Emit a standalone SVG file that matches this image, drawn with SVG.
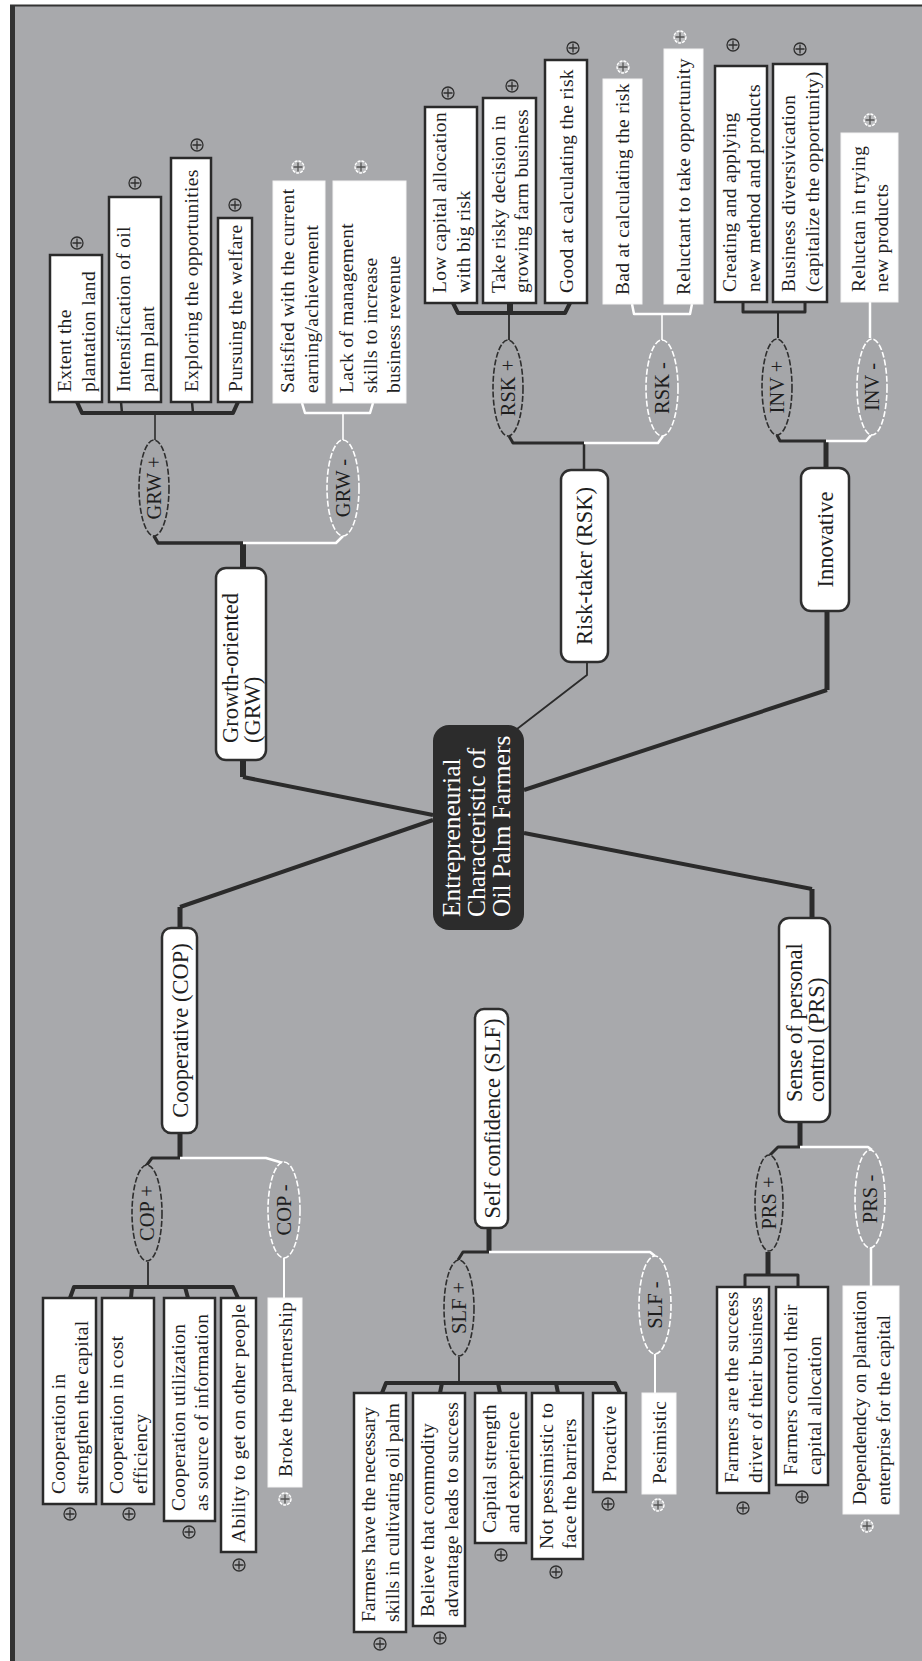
<svg xmlns="http://www.w3.org/2000/svg" xmlns:xlink="http://www.w3.org/1999/xlink" width="922" height="1661" viewBox="0 0 922 1661">
<style>
text{font-family:"Liberation Serif","Times New Roman",serif;fill:#1e1e1e}
.lf{font-size:19.5px;letter-spacing:0.3px}
.tight{letter-spacing:0}
.nd{font-size:22.5px}
.el{font-size:20.5px;text-anchor:middle}
.mid{text-anchor:middle}
.ctr{font-size:25.5px;fill:#ffffff}
.bd{fill:#ffffff;stroke:#2a2a2a;stroke-width:2.5}
.bw{fill:#ffffff;stroke:#f4f4f4;stroke-width:1}
.node{fill:#ffffff;stroke:#2e2e2e;stroke-width:2.5}
.ed{fill:#a5a6a9;stroke:#2e2e2e;stroke-width:1.6;stroke-dasharray:6 2}
.ew{fill:#a5a6a9;stroke:#ffffff;stroke-width:1.6;stroke-dasharray:6 2}
.k{fill:none;stroke:#2b2b2b;stroke-linejoin:round}
.w{fill:none;stroke:#ffffff;stroke-linejoin:round}
</style>
<defs>
<g id="pd"><circle r="6" fill="none" stroke="#2f2f2f" stroke-width="1.3"/><path d="M-4.5,0H4.5M0,-4.5V4.5" stroke="#2f2f2f" stroke-width="1.3"/></g>
<g id="pw"><circle r="6" fill="#bdbec0" stroke="#ffffff" stroke-width="1.4" stroke-dasharray="3 1"/><path d="M-4.5,0H4.5M0,-4.5V4.5" stroke="#555555" stroke-width="1.3"/></g>
</defs>
<rect x="0" y="0" width="922" height="1661" fill="#ffffff"/>
<rect x="12" y="5" width="910" height="1656" fill="#a8a9ac"/>
<path d="M12.5,5V1661" stroke="#333333" stroke-width="5" fill="none"/>
<path d="M10,5.5H922" stroke="#333333" stroke-width="2" fill="none"/>

<g id="connectors">
<!-- GRW -->
<path class="k" stroke-width="6" d="M243,760V777M243,568V543"/>
<path class="k" stroke-width="4" d="M243,777L433,815"/>
<path class="k" stroke-width="3.5" d="M243,543H158L154,536"/>
<path class="w" stroke-width="2.5" d="M243,543H336L343,536"/>
<path class="k" stroke-width="1.6" d="M155,440V413"/>
<path class="k" stroke-width="4" d="M77,402L82,413H233L238,402"/>
<path class="k" stroke-width="2.5" d="M122,413L121,402M193,413L192,402"/>
<path class="w" stroke-width="1.6" d="M343,440V413"/>
<path class="w" stroke-width="2.5" d="M302,403L305,413H370L373,403"/>
<!-- RSK -->
<path class="k" stroke-width="1.8" d="M517,729L587,675V662"/>
<path class="k" stroke-width="2.5" d="M584,470V443"/>
<path class="k" stroke-width="3" d="M584,443H513L509,436"/>
<path class="w" stroke-width="2.5" d="M584,443H658L663,436"/>
<path class="k" stroke-width="1.8" d="M509,340V313"/>
<path class="k" stroke-width="4" d="M453,303L458,313H565L570,303"/>
<path class="k" stroke-width="6" d="M510,313V303"/>
<path class="w" stroke-width="1.6" d="M662,340V314"/>
<path class="w" stroke-width="2.5" d="M632,304L634,314H690L692,304"/>
<!-- INV -->
<path class="k" stroke-width="4" d="M524,790L827,690"/>
<path class="k" stroke-width="5" d="M827,690V611M826,468V441"/>
<path class="k" stroke-width="3" d="M826,441H780L777,435"/>
<path class="w" stroke-width="2.5" d="M826,441H866L871,435"/>
<path class="k" stroke-width="2" d="M778,338V312"/>
<path class="k" stroke-width="3" d="M743,302V312H805V302"/>
<path class="w" stroke-width="2.5" d="M870,338V302"/>
<!-- COP -->
<path class="k" stroke-width="4" d="M433,820L180,907"/>
<path class="k" stroke-width="5" d="M180,907V928M180,1133V1158"/>
<path class="k" stroke-width="3" d="M180,1158H152L146,1166"/>
<path class="w" stroke-width="2.5" d="M180,1158H266L283,1163"/>
<path class="k" stroke-width="1.8" d="M148,1262V1287"/>
<path class="k" stroke-width="4" d="M70,1298L74,1287H233L238,1298M132,1287L131,1298M185,1287L188,1298"/>
<path class="w" stroke-width="2" d="M284,1258V1298"/>
<!-- SLF -->
<path class="k" stroke-width="5" d="M489,1228V1252"/>
<path class="k" stroke-width="3" d="M489,1252H463L458,1260"/>
<path class="w" stroke-width="2.5" d="M489,1252H650L655,1256"/>
<path class="k" stroke-width="1.8" d="M459,1357V1383"/>
<path class="k" stroke-width="4" d="M382,1393L386,1383H615L620,1393M442,1383L440,1393M498,1383L500,1393M556,1383L558,1393"/>
<path class="w" stroke-width="2" d="M655,1354V1393"/>
<!-- PRS -->
<path class="k" stroke-width="4" d="M524,833L812,889"/>
<path class="k" stroke-width="5" d="M812,889V918M800,1122V1147M768,1252V1275"/>
<path class="k" stroke-width="3" d="M800,1147H778L770,1155"/>
<path class="w" stroke-width="2.5" d="M800,1147H868L872,1150"/>
<path class="k" stroke-width="3" d="M745,1287V1275H798V1287"/>
<path class="w" stroke-width="2.5" d="M871,1248V1286"/>
</g>

<g id="center">
<rect x="433" y="725" width="91" height="205" rx="16" fill="#2c2c2c"/>
<text class="ctr" transform="translate(460,917) rotate(-90)"><tspan x="0" y="0">Entrepreneurial</tspan><tspan x="0" y="25">Characteristic of</tspan><tspan x="0" y="50">Oil Palm Farmers</tspan></text>
</g>

<g id="node-grw">
<rect class="node" x="216" y="568" width="50" height="192" rx="10"/>
<text class="nd" transform="translate(238,743) rotate(-90)"><tspan x="0" y="0">Growth-oriented</tspan><tspan x="0" y="22">(GRW)</tspan></text>
</g>
<g id="node-rsk">
<rect class="node" x="561" y="470" width="47" height="192" rx="10"/>
<text class="nd mid" transform="translate(592,566) rotate(-90)">Risk-taker (RSK)</text>
</g>
<g id="node-inv">
<rect class="node" x="801" y="468" width="48" height="143" rx="10"/>
<text class="nd mid" transform="translate(833,539.5) rotate(-90)">Innovative</text>
</g>
<g id="node-cop">
<rect class="node" x="162" y="928" width="35" height="205" rx="9"/>
<text class="nd mid" transform="translate(187.5,1030.5) rotate(-90)">Cooperative (COP)</text>
</g>
<g id="node-slf">
<rect class="node" x="475" y="1009" width="33" height="219" rx="9"/>
<text class="nd mid" transform="translate(499.5,1118.5) rotate(-90)">Self confidence (SLF)</text>
</g>
<g id="node-prs">
<rect class="node" x="779" y="918" width="51" height="204" rx="10"/>
<text class="nd" transform="translate(801.5,1102) rotate(-90)"><tspan x="0" y="0">Sense of personal</tspan><tspan x="0" y="22">control (PRS)</tspan></text>
</g>

<g id="ell-grw-plus"><ellipse class="ed" cx="154" cy="488" rx="15" ry="48"/><text class="el" transform="translate(161,488) rotate(-90)">GRW +</text></g>
<g id="ell-grw-minus"><ellipse class="ew" cx="343" cy="488" rx="16" ry="48"/><text class="el" transform="translate(350,488) rotate(-90)">GRW -</text></g>
<g id="ell-rsk-plus"><ellipse class="ed" cx="508" cy="388" rx="15" ry="48"/><text class="el" transform="translate(515,388) rotate(-90)">RSK +</text></g>
<g id="ell-rsk-minus"><ellipse class="ew" cx="662" cy="388" rx="16" ry="48"/><text class="el" transform="translate(669,388) rotate(-90)">RSK -</text></g>
<g id="ell-inv-plus"><ellipse class="ed" cx="777" cy="387" rx="15" ry="48"/><text class="el" transform="translate(784,387) rotate(-90)">INV +</text></g>
<g id="ell-inv-minus"><ellipse class="ew" cx="872" cy="387" rx="15" ry="48"/><text class="el" transform="translate(879,387) rotate(-90)">INV -</text></g>
<g id="ell-cop-plus"><ellipse class="ed" cx="147" cy="1213" rx="15" ry="48"/><text class="el" transform="translate(154,1213) rotate(-90)">COP +</text></g>
<g id="ell-cop-minus"><ellipse class="ew" cx="284" cy="1210" rx="16" ry="48"/><text class="el" transform="translate(291,1210) rotate(-90)">COP -</text></g>
<g id="ell-slf-plus"><ellipse class="ed" cx="459" cy="1308" rx="15" ry="48"/><text class="el" transform="translate(466,1308) rotate(-90)">SLF +</text></g>
<g id="ell-slf-minus"><ellipse class="ew" cx="655" cy="1305" rx="16" ry="49"/><text class="el" transform="translate(662,1305) rotate(-90)">SLF -</text></g>
<g id="ell-prs-plus"><ellipse class="ed" cx="769" cy="1203" rx="14" ry="48"/><text class="el" transform="translate(776,1203) rotate(-90)">PRS +</text></g>
<g id="ell-prs-minus"><ellipse class="ew" cx="870" cy="1199" rx="15" ry="49"/><text class="el" transform="translate(877,1199) rotate(-90)">PRS -</text></g>

<!-- GRW leaves -->
<g id="leaf-1"><rect class="bd" x="50" y="255" width="52" height="147"/><text class="lf" transform="translate(71,392) rotate(-90)"><tspan x="0" y="0">Extent the</tspan><tspan x="0" y="23.5">plantation land</tspan></text><use xlink:href="#pd" x="77" y="243"/></g>
<g id="leaf-2"><rect class="bd" x="109" y="197" width="52" height="205"/><text class="lf" transform="translate(130,392) rotate(-90)"><tspan x="0" y="0">Intensification of oil</tspan><tspan x="0" y="23.5">palm plant</tspan></text><use xlink:href="#pd" x="135" y="183"/></g>
<g id="leaf-3"><rect class="bd" x="171" y="158" width="40" height="244"/><text class="lf" transform="translate(198,392) rotate(-90)">Exploring the opportunities</text><use xlink:href="#pd" x="197" y="145"/></g>
<g id="leaf-4"><rect class="bd" x="218" y="218" width="34" height="184"/><text class="lf" transform="translate(242,392) rotate(-90)">Pursuing the welfare</text><use xlink:href="#pd" x="235" y="205"/></g>
<g id="leaf-5"><rect class="bw" x="273" y="181" width="52" height="222"/><text class="lf" transform="translate(294,393) rotate(-90)"><tspan x="0" y="0">Satisfied with the current</tspan><tspan x="0" y="23.5">earning/achievement</tspan></text><use xlink:href="#pw" x="298" y="167"/></g>
<g id="leaf-6"><rect class="bw" x="333" y="181" width="73" height="222"/><text class="lf" transform="translate(353,393) rotate(-90)"><tspan x="0" y="0">Lack of management</tspan><tspan x="0" y="23.5">skills to increase</tspan><tspan x="0" y="47">business revenue</tspan></text><use xlink:href="#pw" x="361" y="167"/></g>
<!-- RSK leaves -->
<g id="leaf-7"><rect class="bd" x="425" y="107" width="52" height="196"/><text class="lf" transform="translate(446,293) rotate(-90)"><tspan x="0" y="0">Low capital allocation</tspan><tspan x="0" y="23.5">with big risk</tspan></text><use xlink:href="#pd" x="448" y="93"/></g>
<g id="leaf-8"><rect class="bd" x="483" y="98" width="53" height="205"/><text class="lf" transform="translate(504.5,293) rotate(-90)"><tspan x="0" y="0">Take risky decision in</tspan><tspan x="0" y="23.5">growing farm business</tspan></text><use xlink:href="#pd" x="512" y="86"/></g>
<g id="leaf-9"><rect class="bd" x="545" y="60" width="42" height="243"/><text class="lf" transform="translate(573,293) rotate(-90)">Good at calculating the risk</text><use xlink:href="#pd" x="573" y="48"/></g>
<g id="leaf-10"><rect class="bw" x="603" y="79" width="39" height="225"/><text class="lf" transform="translate(629,295) rotate(-90)">Bad at calculating the risk</text><use xlink:href="#pw" x="623" y="67"/></g>
<g id="leaf-11"><rect class="bw" x="664" y="49" width="39" height="255"/><text class="lf" transform="translate(690,295) rotate(-90)">Reluctant to take opportunity</text><use xlink:href="#pw" x="680" y="37"/></g>
<!-- INV leaves -->
<g id="leaf-12"><rect class="bd" x="715" y="66" width="52" height="236"/><text class="lf" transform="translate(736,292) rotate(-90)"><tspan x="0" y="0">Creating and applying</tspan><tspan x="0" y="23.5">new method and products</tspan></text><use xlink:href="#pd" x="733" y="45"/></g>
<g id="leaf-13"><rect class="bd" x="773" y="64" width="54" height="238"/><text class="lf" transform="translate(795,292) rotate(-90)"><tspan x="0" y="0">Business diversivication</tspan><tspan x="0" y="23.5">(capitalize the opportunity)</tspan></text><use xlink:href="#pd" x="800" y="49"/></g>
<g id="leaf-14"><rect class="bw" x="841" y="133" width="57" height="169"/><text class="lf" transform="translate(864.5,292) rotate(-90)"><tspan x="0" y="0">Reluctan in trying</tspan><tspan x="0" y="23.5">new products</tspan></text><use xlink:href="#pw" x="870" y="120"/></g>
<!-- COP leaves -->
<g id="leaf-15"><rect class="bd" x="43" y="1298" width="53" height="206"/><text class="lf" transform="translate(64.5,1494) rotate(-90)"><tspan x="0" y="0">Cooperation in</tspan><tspan x="0" y="23.5">strengthen the capital</tspan></text><use xlink:href="#pd" x="70" y="1514"/></g>
<g id="leaf-16"><rect class="bd" x="102" y="1298" width="52" height="206"/><text class="lf" transform="translate(123,1494) rotate(-90)"><tspan x="0" y="0">Cooperation in cost</tspan><tspan x="0" y="23.5">efficiency</tspan></text><use xlink:href="#pd" x="129" y="1514"/></g>
<g id="leaf-17"><rect class="bd" x="164" y="1298" width="51" height="223"/><text class="lf" transform="translate(184.5,1511) rotate(-90)"><tspan x="0" y="0">Cooperation utilization</tspan><tspan x="0" y="23.5">as source of information</tspan></text><use xlink:href="#pd" x="189" y="1532"/></g>
<g id="leaf-18"><rect class="bd" x="221" y="1298" width="35" height="254"/><text class="lf" transform="translate(245,1543) rotate(-90)">Ability to get on other people</text><use xlink:href="#pd" x="239" y="1565"/></g>
<g id="leaf-19"><rect class="bw" x="268" y="1298" width="34" height="189"/><text class="lf" transform="translate(292,1477) rotate(-90)">Broke the partnership</text><use xlink:href="#pw" x="285" y="1499"/></g>
<!-- SLF leaves -->
<g id="leaf-20"><rect class="bd" x="354" y="1393" width="52" height="239"/><text class="lf tight" transform="translate(375,1622) rotate(-90)"><tspan x="0" y="0">Farmers have the necessary</tspan><tspan x="0" y="23.5">skills in cultivating oil palm</tspan></text><use xlink:href="#pd" x="380" y="1644"/></g>
<g id="leaf-21"><rect class="bd" x="413" y="1393" width="52" height="233"/><text class="lf" transform="translate(434,1617) rotate(-90)"><tspan x="0" y="0">Believe that commodity</tspan><tspan x="0" y="23.5">advantage leads to success</tspan></text><use xlink:href="#pd" x="440" y="1638"/></g>
<g id="leaf-22"><rect class="bd" x="475" y="1393" width="51" height="150"/><text class="lf" transform="translate(495.5,1533) rotate(-90)"><tspan x="0" y="0">Capital strength</tspan><tspan x="0" y="23.5">and experience</tspan></text><use xlink:href="#pd" x="501" y="1555"/></g>
<g id="leaf-23"><rect class="bd" x="532" y="1393" width="51" height="166"/><text class="lf" transform="translate(552.5,1549) rotate(-90)"><tspan x="0" y="0">Not pessimistic to</tspan><tspan x="0" y="23.5">face the barriers</tspan></text><use xlink:href="#pd" x="556" y="1572"/></g>
<g id="leaf-24"><rect class="bd" x="593" y="1393" width="33" height="99"/><text class="lf" transform="translate(616,1482) rotate(-90)">Proactive</text><use xlink:href="#pd" x="608" y="1504"/></g>
<g id="leaf-25"><rect class="bw" x="642" y="1393" width="34" height="101"/><text class="lf" transform="translate(666,1484) rotate(-90)">Pesimistic</text><use xlink:href="#pw" x="658" y="1505"/></g>
<!-- PRS leaves -->
<g id="leaf-26"><rect class="bd" x="717" y="1287" width="52" height="206"/><text class="lf" transform="translate(738,1483) rotate(-90)"><tspan x="0" y="0">Farmers are the success</tspan><tspan x="0" y="23.5">driver of their business</tspan></text><use xlink:href="#pd" x="743" y="1508"/></g>
<g id="leaf-27"><rect class="bd" x="776" y="1287" width="52" height="198"/><text class="lf" transform="translate(797,1475) rotate(-90)"><tspan x="0" y="0">Farmers control their</tspan><tspan x="0" y="23.5">capital allocation</tspan></text><use xlink:href="#pd" x="802" y="1497"/></g>
<g id="leaf-28"><rect class="bw" x="843" y="1286" width="56" height="228"/><text class="lf tight" transform="translate(866,1505) rotate(-90)"><tspan x="0" y="0">Dependendcy on plantation</tspan><tspan x="0" y="23.5">enterprise for the capital</tspan></text><use xlink:href="#pw" x="867" y="1526"/></g>
</svg>
